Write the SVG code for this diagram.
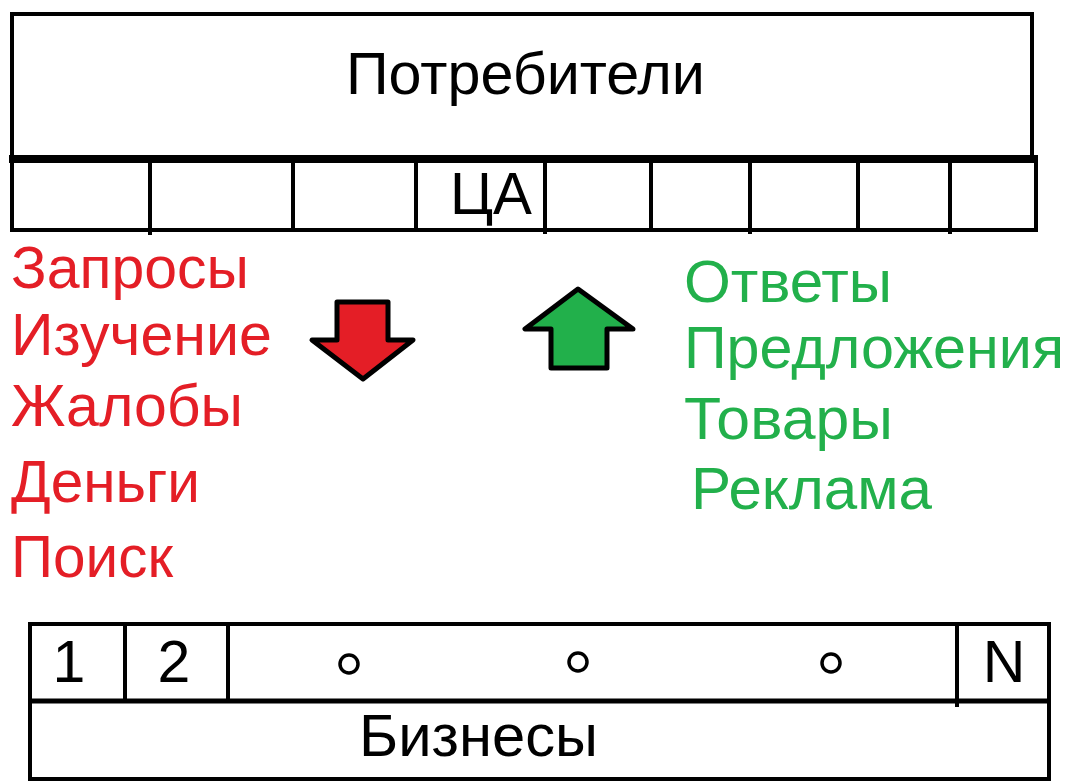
<svg xmlns="http://www.w3.org/2000/svg" width="1068" height="781" viewBox="0 0 1068 781">
<style>
.ln{stroke:#000;fill:none}
.t{font-family:"Liberation Sans",Arial,sans-serif;font-size:59px}
.blk{fill:#000}
.red{fill:#e41e26}
.grn{fill:#22b04b}
.dot{fill:none;stroke:#000;stroke-width:3.5}
.arr{stroke:#000;stroke-width:5;stroke-linejoin:round}
.mid{text-anchor:middle}
</style>
<rect width="1068" height="781" fill="#fff"/>
<g id="consumers">
<rect class="ln" x="12" y="14" width="1020" height="143" stroke-width="4"/>
<text class="t blk" x="346" y="94" textLength="359" lengthAdjust="spacingAndGlyphs">Потребители</text>
</g>
<g id="target-row">
<line class="ln" x1="9" y1="159" x2="1038" y2="159" stroke-width="8"/>
<line class="ln" x1="12" y1="156" x2="12" y2="232" stroke-width="4"/>
<line class="ln" x1="1036" y1="156" x2="1036" y2="232" stroke-width="4"/>
<line class="ln" x1="10" y1="230" x2="1038" y2="230" stroke-width="4"/>
<line class="ln" x1="150" y1="159" x2="150" y2="235" stroke-width="4"/>
<line class="ln" x1="293" y1="159" x2="293" y2="230" stroke-width="4"/>
<line class="ln" x1="416" y1="159" x2="416" y2="230" stroke-width="4"/>
<line class="ln" x1="545" y1="159" x2="545" y2="234" stroke-width="4"/>
<line class="ln" x1="651" y1="159" x2="651" y2="230" stroke-width="4"/>
<line class="ln" x1="750" y1="159" x2="750" y2="234" stroke-width="4"/>
<line class="ln" x1="858" y1="159" x2="858" y2="230" stroke-width="4"/>
<line class="ln" x1="950" y1="159" x2="950" y2="234" stroke-width="4"/>
<text class="t blk" x="450" y="214" textLength="82" lengthAdjust="spacingAndGlyphs">ЦА</text>
</g>
<g id="requests">
<text class="t red" x="11" y="288" textLength="238" lengthAdjust="spacingAndGlyphs">Запросы</text>
<text class="t red" x="11" y="355" textLength="261" lengthAdjust="spacingAndGlyphs">Изучение</text>
<text class="t red" x="11" y="426" textLength="232" lengthAdjust="spacingAndGlyphs">Жалобы</text>
<text class="t red" x="11" y="502" textLength="189" lengthAdjust="spacingAndGlyphs">Деньги</text>
<text class="t red" x="11" y="577" textLength="162" lengthAdjust="spacingAndGlyphs">Поиск</text>
</g>
<g id="responses">
<text class="t grn" x="684" y="302" textLength="208" lengthAdjust="spacingAndGlyphs">Ответы</text>
<text class="t grn" x="684" y="368" textLength="380" lengthAdjust="spacingAndGlyphs">Предложения</text>
<text class="t grn" x="684" y="439" textLength="209" lengthAdjust="spacingAndGlyphs">Товары</text>
<text class="t grn" x="691" y="509" textLength="241" lengthAdjust="spacingAndGlyphs">Реклама</text>
</g>
<g id="connectors">
<path class="arr red" d="M337,302 L388,302 L388,340 L413,340 L363,379 L312,340 L337,340 Z"/>
<path class="arr grn" d="M551,368 L607,368 L607,329 L633,329 L578,289 L525,329 L551,329 Z"/>
</g>
<g id="businesses">
<rect class="ln" x="30" y="624" width="1019" height="155" stroke-width="4"/>
<line class="ln" x1="28" y1="701" x2="1051" y2="701" stroke-width="5"/>
<line class="ln" x1="125" y1="624" x2="125" y2="701" stroke-width="4"/>
<line class="ln" x1="228" y1="624" x2="228" y2="701" stroke-width="4"/>
<line class="ln" x1="957" y1="624" x2="957" y2="707" stroke-width="4"/>
<text class="t blk mid" x="69" y="682">1</text>
<text class="t blk mid" x="174" y="682">2</text>
<circle class="dot" cx="349" cy="664" r="9"/>
<circle class="dot" cx="578" cy="662" r="9"/>
<circle class="dot" cx="831" cy="663" r="9"/>
<text class="t blk mid" x="1004" y="682">N</text>
<text class="t blk" x="359" y="756" textLength="239" lengthAdjust="spacingAndGlyphs">Бизнесы</text>
</g>
</svg>
